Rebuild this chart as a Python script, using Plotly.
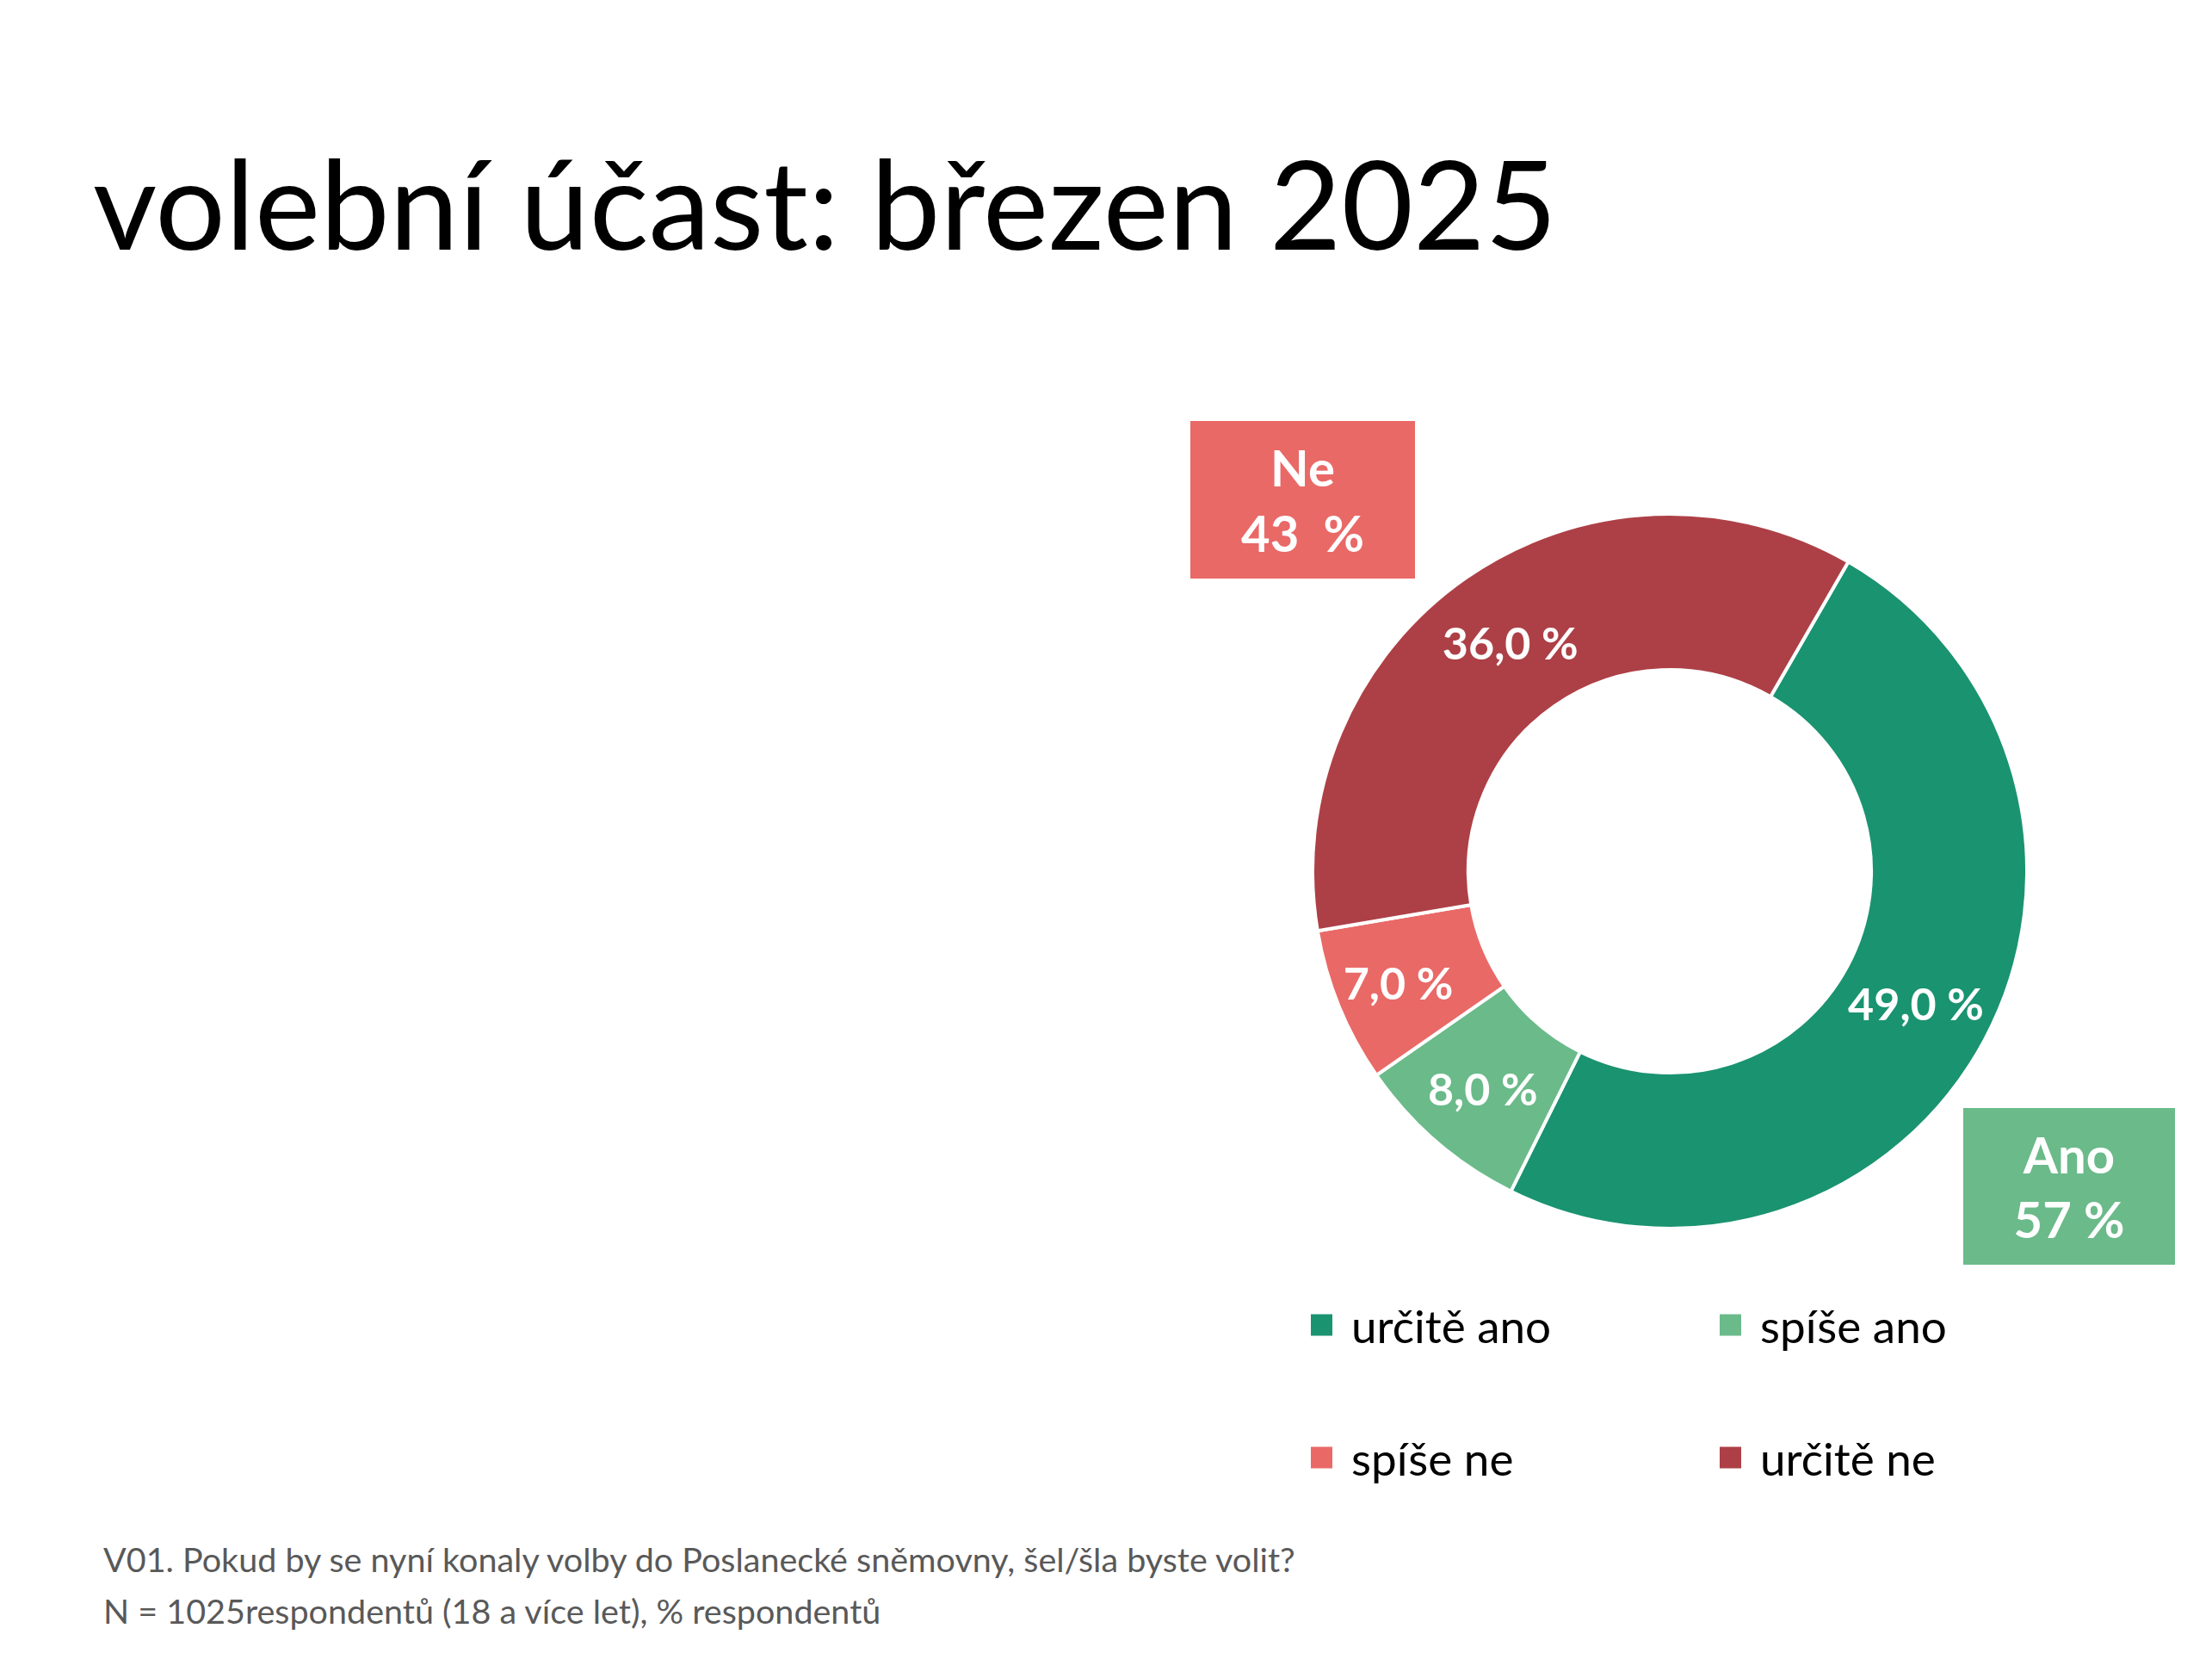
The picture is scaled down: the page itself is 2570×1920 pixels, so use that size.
import plotly.graph_objects as go

W, H = 2570, 1920

# ---- data ----
categories = ["určitě ano", "spíše ano", "spíše ne", "určitě ne"]
values = [49.0, 8.0, 7.0, 36.0]
colors = ["#1A9370", "#6BBA8A", "#E96967", "#AD4046"]
title_text = "volební účast: březen 2025"
note_lines = [
    "V01. Pokud by se nyní konaly volby do Poslanecké sněmovny, šel/šla byste volit?",
    "N = 1025respondentů (18 a více let), % respondentů",
]
yes_label, no_label = "Ano", "Ne"

def fmt(v, dec=1):
    return f"{v:.{dec}f}".replace(".", ",")

slice_text = [fmt(v) + " %" for v in values]
yes_total = values[0] + values[1]
no_total = values[2] + values[3]

FONT = "Lato"

def px2x(px):
    return px / W

def py2y(py):
    return 1 - py / H

# pie geometry (pixels)
cx, cy, R = 1940, 1012, 415

fig = go.Figure()
fig.add_trace(go.Pie(
    labels=categories,
    values=values,
    text=slice_text,
    textinfo="text",
    textposition="inside",
    insidetextorientation="horizontal",
    insidetextfont=dict(family=FONT, size=52, color="white", weight="bold"),
    marker=dict(colors=colors, line=dict(color="white", width=4)),
    hole=0.564,
    sort=False,
    direction="clockwise",
    rotation=30,
    domain=dict(x=[px2x(cx - R), px2x(cx + R)], y=[py2y(cy + R), py2y(cy - R)]),
    hoverinfo="label+percent",
    showlegend=False,
))

annotations = [
    dict(text=f"<b>{no_label}<br>{no_total:.0f}\u00a0 %</b>", x=px2x(1383), y=py2y(489),
         xanchor="left", yanchor="top", width=261, height=183, bgcolor="#E96967",
         borderpad=0, borderwidth=0, showarrow=False,
         font=dict(family=FONT, size=58, color="white")),
    dict(text=f"<b>{yes_label}<br>{yes_total:.0f} %</b>", x=px2x(2281), y=py2y(1287),
         xanchor="left", yanchor="top", width=246, height=182, bgcolor="#6BBA8A",
         borderpad=0, borderwidth=0, showarrow=False,
         font=dict(family=FONT, size=58, color="white")),
]
for i, line in enumerate(note_lines):
    annotations.append(dict(text=line, x=px2x(118), y=py2y(1810 + 60 * i),
                            xanchor="left", yanchor="middle", showarrow=False,
                            font=dict(family=FONT, size=39.5, color="#595959")))

# legend: 2 columns x 2 rows, square swatches
LEG_X0, LEG_Y0, COL_W, ROW_H, SW, GAP = 1523, 1539, 475, 154, 25, 20
shapes = []
for i, (cat, col) in enumerate(zip(categories, colors)):
    r, c = divmod(i, 2)
    x0 = LEG_X0 + c * COL_W
    yc = LEG_Y0 + r * ROW_H
    shapes.append(dict(type="rect", xref="paper", yref="paper",
                       x0=px2x(x0), x1=px2x(x0 + SW),
                       y0=py2y(yc + SW / 2), y1=py2y(yc - SW / 2),
                       fillcolor=col, line=dict(width=0)))
    annotations.append(dict(text=cat, x=px2x(x0 + SW + GAP), y=py2y(yc),
                            xanchor="left", yanchor="middle", showarrow=False,
                            font=dict(family=FONT, size=53, color="black")))

fig.update_layout(
    width=W, height=H,
    margin=dict(l=0, r=0, t=0, b=0, autoexpand=False),
    paper_bgcolor="white", plot_bgcolor="white",
    title=dict(text=title_text, x=108 / W, xanchor="left", xref="container",
               y=1 - 240 / H, yanchor="middle", yref="container",
               font=dict(family=FONT, size=144, color="black")),
    showlegend=False,
    annotations=annotations,
    shapes=shapes,
)

fig.write_html("out.html")
